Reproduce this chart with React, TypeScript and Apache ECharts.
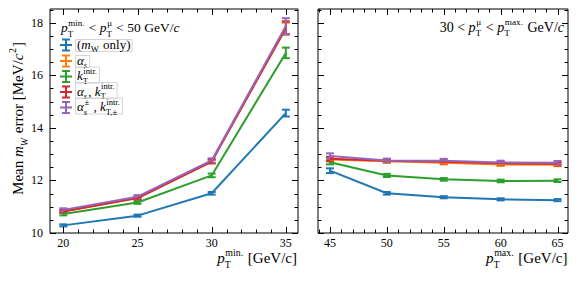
import React, { useEffect, useRef } from 'react';
import * as echarts from 'echarts';

const FONT = '"Liberation Serif", "DejaVu Serif", serif';

// x positions (GeV/c)
const ptMinValues = [20, 25, 30, 35];
const ptMaxValues = [45, 50, 55, 60, 65];
const xLeftTickLabels = [20, 25, 30, 35];
const xRightTickLabels = [45, 50, 55, 60, 65];
const yTickLabels = [10, 12, 14, 16, 18];

// left panel: mean mW error vs pT min
const leftMwOnly = [10.29, 10.66, 11.51, 14.56];
const leftMwOnlyErr = [0.04, 0.04, 0.05, 0.13];
const leftAlphaS = [10.83, 11.33, 12.72, 17.78];
const leftAlphaSErr = [0.05, 0.05, 0.07, 0.22];
const leftKT = [10.72, 11.16, 12.19, 16.85];
const leftKTErr = [0.05, 0.05, 0.07, 0.2];
const leftAlphaSKT = [10.82, 11.33, 12.72, 17.8];
const leftAlphaSKTErr = [0.05, 0.05, 0.07, 0.25];
const leftAlphaPM = [10.88, 11.38, 12.76, 17.87];
const leftAlphaPMErr = [0.06, 0.06, 0.08, 0.3];

// right panel: mean mW error vs pT max
const rightMwOnly = [12.37, 11.51, 11.36, 11.28, 11.25];
const rightMwOnlyErr = [0.09, 0.05, 0.04, 0.04, 0.04];
const rightAlphaS = [12.8, 12.73, 12.67, 12.61, 12.6];
const rightAlphaSErr = [0.08, 0.06, 0.06, 0.06, 0.06];
const rightKT = [12.69, 12.19, 12.04, 11.98, 11.99];
const rightKTErr = [0.08, 0.06, 0.05, 0.05, 0.05];
const rightAlphaSKT = [12.82, 12.75, 12.71, 12.65, 12.63];
const rightAlphaSKTErr = [0.08, 0.06, 0.06, 0.06, 0.06];
const rightAlphaPM = [12.93, 12.76, 12.75, 12.68, 12.67];
const rightAlphaPMErr = [0.1, 0.07, 0.07, 0.07, 0.07];

const seriesNames = ['(mW only)', 'αs', 'kT intr.', 'αs, kT intr.', 'αs±, kT,± intr.'];
const colors = ['#1f77b4', '#ff7f0e', '#2ca02c', '#d62728', '#9467bd'];

const leftSets = [
  [leftMwOnly, leftMwOnlyErr],
  [leftAlphaS, leftAlphaSErr],
  [leftKT, leftKTErr],
  [leftAlphaSKT, leftAlphaSKTErr],
  [leftAlphaPM, leftAlphaPMErr],
];
const rightSets = [
  [rightMwOnly, rightMwOnlyErr],
  [rightAlphaS, rightAlphaSErr],
  [rightKT, rightKTErr],
  [rightAlphaSKT, rightAlphaSKTErr],
  [rightAlphaPM, rightAlphaPMErr],
];

let mctx: CanvasRenderingContext2D | null = null;
function measure(t: string, fs: number, it?: boolean) {
  if (!mctx) mctx = document.createElement('canvas').getContext('2d');
  mctx!.font = `${it ? 'italic ' : ''}${fs}px ${FONT}`;
  return mctx!.measureText(t).width;
}

type Piece = { t?: string; it?: boolean; sup?: string; sub?: string; supIt?: boolean; subIt?: boolean };

function txt(t: string, x: number, baseline: number, fs: number, it?: boolean, color = '#000') {
  return {
    type: 'text',
    x,
    y: baseline - 0.34 * fs,
    silent: true,
    style: {
      text: t,
      font: `${it ? 'italic ' : ''}${fs}px ${FONT}`,
      fill: color,
      textAlign: 'left',
      textVerticalAlign: 'middle',
      align: 'left',
      verticalAlign: 'middle',
    },
  };
}

function mathText(pieces: Piece[], fs: number) {
  const children: any[] = [];
  let x = 0;
  const sfs = fs * 0.66;
  for (const p of pieces) {
    if (p.t) {
      children.push(txt(p.t, x, 0, fs, p.it));
      x += measure(p.t, fs, p.it);
    }
    let sw = 0;
    if (p.sup) {
      children.push(txt(p.sup, x + 0.6, -0.5 * fs, sfs, p.supIt));
      sw = Math.max(sw, measure(p.sup, sfs, p.supIt) + 0.6);
    }
    if (p.sub) {
      children.push(txt(p.sub, x, 0.3 * fs, sfs, p.subIt));
      sw = Math.max(sw, measure(p.sub, sfs, p.subIt));
    }
    if (sw) x += sw + 1;
  }
  return { children, width: x };
}

const pT = (sup: string): Piece => ({ t: 'p', it: true, sup, sub: 'T' });

function tickSeries(gi: number, xMajor: number[], xMinor: number[], yMajor: number[], yMinor: number[], anchor: number[]) {
  return {
    type: 'custom',
    xAxisIndex: gi,
    yAxisIndex: gi,
    silent: true,
    clip: false,
    z: 5,
    data: [anchor],
    renderItem: (params: any, api: any) => {
      const cs = params.coordSys;
      const top = cs.y, bottom = cs.y + cs.height, left = cs.x, right = cs.x + cs.width;
      const ch: any[] = [];
      const add = (x1: number, y1: number, x2: number, y2: number) =>
        ch.push({ type: 'line', shape: { x1, y1, x2, y2 }, style: { stroke: '#000', lineWidth: 1 } });
      const xs = (vals: number[], L: number) => {
        for (const v of vals) {
          const px = Math.round(api.coord([v, anchor[1]])[0]) + 0.5;
          add(px, bottom, px, bottom - L);
          add(px, top, px, top + L);
        }
      };
      const ys = (vals: number[], L: number) => {
        for (const v of vals) {
          const py = Math.round(api.coord([anchor[0], v])[1]) + 0.5;
          add(left, py, left + L, py);
          add(right, py, right - L, py);
        }
      };
      xs(xMajor, 6);
      xs(xMinor, 3.5);
      ys(yMajor, 6);
      ys(yMinor, 3.5);
      return { type: 'group', children: ch };
    },
  };
}

function errSeries(gi: number, xs: number[], ys: number[], es: number[], color: string, name: string) {
  return {
    type: 'custom',
    name,
    xAxisIndex: gi,
    yAxisIndex: gi,
    silent: true,
    clip: false,
    encode: { x: 0, y: 1 },
    data: xs.map((x, i) => [x, ys[i], es[i]]),
    renderItem: (params: any, api: any) => {
      const x = api.value(0), y = api.value(1), e = api.value(2);
      const t = api.coord([x, y + e]);
      const b = api.coord([x, y - e]);
      const w = 4;
      const st = { stroke: color, lineWidth: 2 };
      return {
        type: 'group',
        children: [
          { type: 'line', shape: { x1: t[0], y1: t[1], x2: b[0], y2: b[1] }, style: st },
          { type: 'line', shape: { x1: t[0] - w, y1: t[1], x2: t[0] + w, y2: t[1] }, style: st },
          { type: 'line', shape: { x1: b[0] - w, y1: b[1], x2: b[0] + w, y2: b[1] }, style: st },
        ],
      };
    },
  };
}

function range(a: number, b: number, step: number, skip: number) {
  const out: number[] = [];
  for (let v = a; v <= b + 1e-9; v += step) {
    const r = Math.round(v * 100) / 100;
    if (Math.abs(r / skip - Math.round(r / skip)) > 1e-6) out.push(r);
  }
  return out;
}

export default function App() {
  const ref = useRef<HTMLDivElement>(null);
  useEffect(() => {
    const chart = echarts.init(ref.current!, null, { renderer: 'svg' });

    const series: any[] = [];
    const sides = [
      { gi: 0, xs: ptMinValues, sets: leftSets },
      { gi: 1, xs: ptMaxValues, sets: rightSets },
    ];
    for (const s of sides) {
      s.sets.forEach(([vals, errs], i) => {
        series.push({
          type: 'line',
          name: seriesNames[i],
          xAxisIndex: s.gi,
          yAxisIndex: s.gi,
          data: s.xs.map((x, j) => [x, vals[j]]),
          showSymbol: false,
          symbol: 'none',
          lineStyle: { color: colors[i], width: 2 },
          itemStyle: { color: colors[i] },
          silent: true,
        });
        series.push(errSeries(s.gi, s.xs, vals, errs, colors[i], seriesNames[i]));
      });
    }
    series.push(tickSeries(0, xLeftTickLabels, range(20, 35, 1, 5), yTickLabels, range(10, 18.5, 0.5, 2), [20, 12]));
    series.push(tickSeries(1, xRightTickLabels, range(44, 65, 1, 5), yTickLabels, range(10, 18.5, 0.5, 2), [50, 12]));

    const graphics: any[] = [];
    // y-axis title
    const yt = mathText(
      [{ t: 'Mean ' }, { t: 'm', it: true, sub: 'W', subIt: true }, { t: ' error [MeV/' }, { t: 'c', it: true, sup: '2' }, { t: ']' }],
      15
    );
    graphics.push({ type: 'group', x: 23, y: 118.5 + yt.width / 2, rotation: Math.PI / 2, children: yt.children });
    // x-axis titles
    const xt1 = mathText([pT('min.'), { t: ' [GeV/c]' }], 15);
    graphics.push({ type: 'group', x: 297 - xt1.width, y: 263.5, children: xt1.children });
    const xt2 = mathText([pT('max.'), { t: ' [GeV/c]' }], 15);
    graphics.push({ type: 'group', x: 567.5 - xt2.width, y: 263.5, children: xt2.children });
    // annotations
    const a1 = mathText([pT('min.'), { t: ' < ' }, pT('μ'), { t: ' < 50 GeV/' }, { t: 'c', it: true }], 13.5);
    graphics.push({ type: 'group', x: 61, y: 32.5, children: a1.children });
    const a2 = mathText([{ t: '30 < ' }, pT('μ'), { t: ' < ' }, pT('max.'), { t: ' GeV/' }, { t: 'c', it: true }], 14);
    graphics.push({ type: 'group', x: 564 - a2.width, y: 32, children: a2.children });

    // legend
    const kT: Piece = { t: 'k', it: true, sup: 'intr.', sub: 'T' };
    const legendLabels: Piece[][] = [
      [{ t: '(' }, { t: 'm', it: true, sub: 'W' }, { t: ' only)' }],
      [{ t: 'α', it: true, sub: 's', subIt: true }],
      [kT],
      [{ t: 'α', it: true, sub: 's', subIt: true }, { t: ', ' }, kT],
      [{ t: 'α', it: true, sup: '±', sub: 's', subIt: true }, { t: ' , ' }, { t: 'k', it: true, sup: 'intr.', sub: 'T,±' }],
    ];
    const rowCenters = [45, 61, 76.5, 92, 107.5];
    const hasSup = [false, false, true, true, true];
    legendLabels.forEach((pcs, i) => {
      const c = rowCenters[i];
      const col = colors[i];
      const st = { stroke: col, lineWidth: 2 };
      graphics.push({ type: 'line', silent: true, shape: { x1: 60, y1: c, x2: 72, y2: c }, style: st });
      graphics.push({ type: 'line', silent: true, shape: { x1: 66, y1: c - 5.5, x2: 66, y2: c + 5.5 }, style: st });
      graphics.push({ type: 'line', silent: true, shape: { x1: 62, y1: c - 5.5, x2: 70, y2: c - 5.5 }, style: st });
      graphics.push({ type: 'line', silent: true, shape: { x1: 62, y1: c + 5.5, x2: 70, y2: c + 5.5 }, style: st });
      const m = mathText(pcs, 13);
      const base = c + 3.5;
      const up = hasSup[i] ? 13 : 9;
      graphics.push({
        type: 'rect',
        silent: true,
        shape: { x: 75.5, y: base - up, width: m.width + 3, height: up + 3 },
        style: { fill: 'none', stroke: '#d4d4d4', lineWidth: 1 },
      });
      graphics.push({ type: 'group', x: 77, y: base, children: m.children });
    });

    const axisLabelBase = { fontFamily: FONT, fontSize: 12, lineHeight: 12, color: '#000' };
    const option: any = {
      animation: false,
      grid: [
        { left: 50, top: 9, width: 248, height: 224, show: true, borderColor: '#000', borderWidth: 1, backgroundColor: 'transparent' },
        { left: 318, top: 9, width: 250, height: 224, show: true, borderColor: '#000', borderWidth: 1, backgroundColor: 'transparent' },
      ],
      xAxis: [
        {
          type: 'value', gridIndex: 0, min: 19.1, max: 35.82,
          axisLine: { show: false }, axisTick: { show: false }, splitLine: { show: false },
          axisLabel: { ...axisLabelBase, margin: 4, customValues: xLeftTickLabels },
        },
        {
          type: 'value', gridIndex: 1, min: 43.95, max: 65.92,
          axisLine: { show: false }, axisTick: { show: false }, splitLine: { show: false },
          axisLabel: { ...axisLabelBase, margin: 4, customValues: xRightTickLabels },
        },
      ],
      yAxis: [
        {
          type: 'value', gridIndex: 0, min: 10, max: 18.52,
          axisLine: { show: false }, axisTick: { show: false }, splitLine: { show: false },
          axisLabel: { ...axisLabelBase, margin: 7, customValues: yTickLabels },
        },
        {
          type: 'value', gridIndex: 1, min: 10, max: 18.52,
          axisLine: { show: false }, axisTick: { show: false }, splitLine: { show: false },
          axisLabel: { show: false },
        },
      ],
      series,
      graphic: graphics,
    };
    chart.setOption(option);
    return () => chart.dispose();
  }, []);
  return <div ref={ref} style={{ position: 'fixed', left: 0, top: 0, width: 579, height: 282, background: '#fff' }} />;
}
